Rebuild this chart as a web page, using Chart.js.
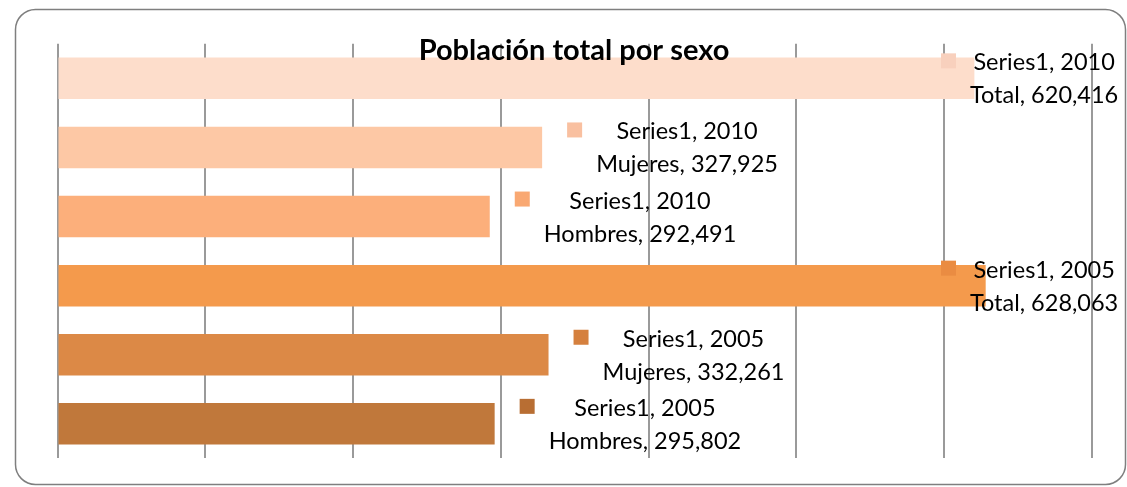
<!DOCTYPE html>
<html>
<head>
<meta charset="utf-8">
<script src="https://cdn.jsdelivr.net/npm/chart.js@4"></script>
<style>
  html, body { margin: 0; padding: 0; background: #fff; }
  #wrap { width: 1127px; height: 487px; }
</style>
</head>
<body>
<div id="wrap"><canvas id="pop"></canvas></div>
<script>
// data, top bar first
const seriesName = 'Series1';
const years = ['2010', '2010', '2010', '2005', '2005', '2005'];
const groups = ['Total', 'Mujeres', 'Hombres', 'Total', 'Mujeres', 'Hombres'];
const poblacion = [620416, 327925, 292491, 628063, 332261, 295802];
const barColors = ['#FDDDCB', '#FDC8A5', '#FCAF7B', '#F49A4C', '#DC8946', '#C0783B'];
// legend keys in the labels are a touch darker than the bars
const keyColors = ['#F8D0BD', '#F9C0A0', '#F9A872', '#EA8C42', '#D5803E', '#B86E33'];
const titleText = 'Población total por sexo';

const labelFont = '23.5px Lato, "Open Sans", sans-serif';

// rounded frame around the whole chart
const framePlugin = {
    id: 'frame',
    beforeDraw(chart) {
        const c = chart.ctx;
        c.save();
        c.fillStyle = '#fff';
        c.fillRect(0, 0, chart.width, chart.height);
        c.strokeStyle = '#7f7f7f';
        c.lineWidth = 1.5;
        c.beginPath();
        c.roundRect(15.5, 9.5, 1110, 475, 20);
        c.stroke();
        c.restore();
    }
};

// excel style data labels: legend key + "Series1, year" / "group, value"
const labelPlugin = {
    id: 'barLabels',
    afterDatasetsDraw(chart) {
        const c = chart.ctx;
        const area = chart.chartArea;
        const meta = chart.getDatasetMeta(0);
        c.save();
        c.font = labelFont;
        c.textAlign = 'center';
        c.textBaseline = 'alphabetic';
        meta.data.forEach((bar, i) => {
            const line1 = seriesName + ', ' + years[i];
            const line2 = groups[i] + ', ' + poblacion[i].toLocaleString('en-US');
            const left = Math.min(bar.x + 25, area.right - 151);
            const w = Math.max(c.measureText(line1).width, c.measureText(line2).width);
            const cx = left + 29 + w / 2;
            c.fillStyle = keyColors[i];
            c.fillRect(left, bar.y - 25, 15, 15);
            c.fillStyle = '#000';
            c.fillText(line1, cx, bar.y - 8);
            c.fillText(line2, cx, bar.y + 25);
        });
        // title sits over the first bar
        c.font = 'bold 29px Lato, "Open Sans", sans-serif';
        c.fillText(titleText, 574, 60);
        c.restore();
    }
};

new Chart(document.getElementById('pop'), {
    type: 'bar',
    data: {
        labels: groups.map((g, i) => years[i] + ' ' + g),
        datasets: [{
            label: seriesName,
            data: poblacion,
            backgroundColor: barColors,
            borderWidth: 0,
            barPercentage: 0.6,
            categoryPercentage: 1
        }]
    },
    options: {
        indexAxis: 'y',
        responsive: true,
        maintainAspectRatio: false,
        animation: false,
        layout: {
            padding: { left: 57.5, right: 35, top: 43.8, bottom: 28.6 }
        },
        scales: {
            x: {
                min: 0,
                max: 700000,
                ticks: { display: false, stepSize: 100000 },
                border: { display: false },
                grid: { color: '#9a9a9a', lineWidth: 2, drawTicks: false, tickLength: 0 }
            },
            y: {
                display: false
            }
        },
        plugins: {
            legend: { display: false },
            tooltip: { enabled: false }
        }
    },
    plugins: [framePlugin, labelPlugin]
});
</script>
</body>
</html>
